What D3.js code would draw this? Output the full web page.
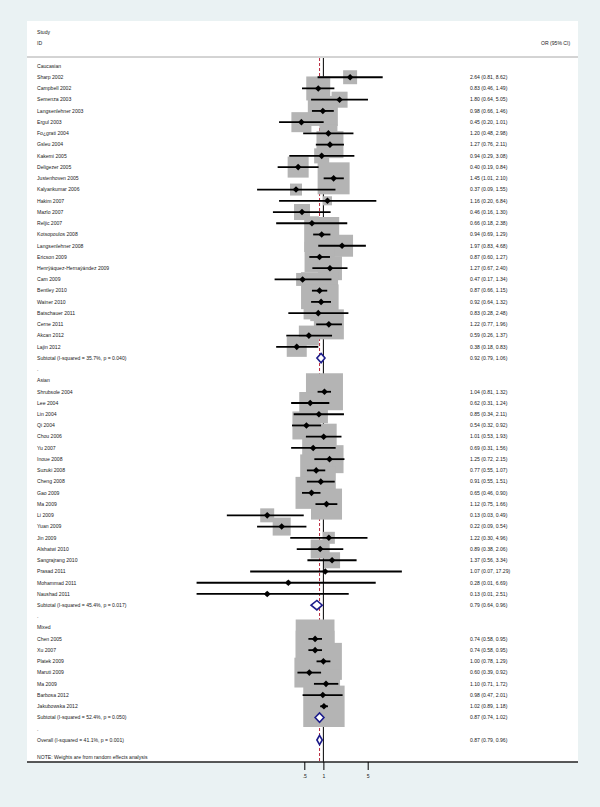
<!DOCTYPE html>
<html>
<head>
<meta charset="utf-8">
<script src="https://cdn.jsdelivr.net/npm/d3@7"></script>
<style>
  html, body { margin: 0; padding: 0; background: #eaf2f3; }
  svg { display: block; }
  text { font-family: "Liberation Sans", Arial, sans-serif; }
</style>
</head>
<body>
<script>
// ---------------- DATA ----------------
const groupNames = ["Caucasian", "Asian", "Mixed"];

const studyLabels = [
  "Sharp 2002","Campbell 2002","Semenza 2003","Langsenlehner 2003","Ergul 2003","Fo¿grati 2004","Gsleu 2004","Kakemi 2005","Deligezer 2005","Justenhoven 2005","Kalyankumar 2006","Hakim 2007","Mazlo 2007","Reljic 2007","Kotsopoulos 2008","Langsenlehner 2008","Ericson 2009","Henrÿáquez-Hernaýández 2009","Cam 2009","Bentley 2010","Wainer 2010","Batschauer 2011","Cerne 2011","Akcan 2012","Lajin 2012",
  "Shrubsole 2004","Lee 2004","Lin 2004","Qi 2004","Chou 2006","Yu 2007","Inoue 2008","Suzuki 2008","Cheng 2008","Gao 2009","Ma 2009","Li 2009","Yuan 2009","Jin 2009","Alshatwi 2010","Sangrajrang 2010","Prasad 2011","Mohammad 2011","Naushad 2011",
  "Chen 2005","Xu 2007","Platek 2009","Maruti 2009","Ma 2009","Barbosa 2012","Jakubowska 2012"
];
const studyGroup = [
  0,0,0,0,0,0,0,0,0,0,0,0,0,0,0,0,0,0,0,0,0,0,0,0,0,
  1,1,1,1,1,1,1,1,1,1,1,1,1,1,1,1,1,1,1,
  2,2,2,2,2,2,2
];
const orValues = [
  2.64,0.83,1.80,0.98,0.45,1.20,1.27,0.94,0.40,1.45,0.37,1.16,0.46,0.66,0.94,1.97,0.87,1.27,0.47,0.87,0.92,0.83,1.22,0.59,0.38,
  1.04,0.62,0.85,0.54,1.01,0.69,1.25,0.77,0.91,0.65,1.12,0.13,0.22,1.22,0.89,1.37,1.07,0.28,0.13,
  0.74,0.74,1.00,0.60,1.10,0.98,1.02
];
const ciLower = [
  0.81,0.46,0.64,0.66,0.20,0.48,0.76,0.29,0.19,1.01,0.09,0.20,0.16,0.18,0.69,0.83,0.60,0.67,0.17,0.66,0.64,0.28,0.77,0.26,0.18,
  0.81,0.31,0.34,0.32,0.53,0.31,0.72,0.55,0.55,0.46,0.75,0.03,0.09,0.30,0.38,0.56,0.07,0.01,0.01,
  0.58,0.58,0.78,0.39,0.71,0.47,0.89
];
const ciUpper = [
  8.62,1.49,5.05,1.46,1.01,2.98,2.11,3.08,0.84,2.10,1.55,6.84,1.30,2.38,1.29,4.68,1.27,2.40,1.34,1.15,1.32,2.48,1.96,1.37,0.83,
  1.32,1.24,2.11,0.92,1.93,1.56,2.15,1.07,1.51,0.90,1.66,0.49,0.54,4.96,2.06,3.34,17.29,6.69,2.51,
  0.95,0.95,1.29,0.92,1.72,2.01,1.18
];
// estimated percentage weights (read from square sizes)
const weights = [
  0.57,1.68,0.75,2.63,1.17,0.95,2.13,0.66,1.29,2.99,0.42,0.24,0.75,0.57,3.58,1.41,2.63,1.68,0.49,4.0,3.58,0.75,2.63,1.17,1.17,
  4.0,1.41,0.95,2.29,1.98,1.41,2.29,2.99,2.63,2.99,2.81,0.57,0.95,0.42,1.05,0.75,0.03,0.05,0.05,
  4.4,4.4,4.0,2.6,2.3,1.2,5.0
];

const subtotalHet = ["35.7%, p = 0.040", "45.4%, p = 0.017", "52.4%, p = 0.050"];
const subtotalOR = [0.92, 0.79, 0.87];
const subtotalLo = [0.79, 0.64, 0.74];
const subtotalHi = [1.06, 0.96, 1.02];

const overallHet = "41.1%, p = 0.001";
const overallOR = 0.87, overallLo = 0.79, overallHi = 0.96;

const tickValues = [0.5, 1, 5];
const tickLabels = [".5", "1", "5"];

// ---------------- BUILD ROWS ----------------
const fmt = d3.format(".2f");
const rows = [];
groupNames.forEach((g, gi) => {
  rows.push({type: "header", label: g});
  studyLabels.forEach((s, i) => {
    if (studyGroup[i] === gi) rows.push({type: "study", label: s, or: orValues[i], lo: ciLower[i], hi: ciUpper[i], w: weights[i]});
  });
  rows.push({type: "subtotal", label: "Subtotal  (I-squared = " + subtotalHet[gi] + ")", or: subtotalOR[gi], lo: subtotalLo[gi], hi: subtotalHi[gi]});
  rows.push({type: "spacer", label: "."});
});
rows.push({type: "overall", label: "Overall  (I-squared = " + overallHet + ")", or: overallOR, lo: overallLo, hi: overallHi});
rows.forEach((r, i) => r.idx = i);

// ---------------- LAYOUT ----------------
const W = 600, H = 807;
const svg = d3.select("body").append("svg").attr("width", W).attr("height", H);

svg.append("rect").attr("width", W).attr("height", H).attr("fill", "#eaf2f3");
const panel = {x0: 27, x1: 578, y0: 21, y1: 762};
svg.append("rect").attr("x", panel.x0).attr("y", panel.y0)
  .attr("width", panel.x1 - panel.x0).attr("height", panel.y1 - panel.y0).attr("fill", "#ffffff");

const x = d3.scaleLog().domain([0.5, 5]).range([304.3, 367.7]);
const y = d3.scaleLinear().domain([0, 60]).range([66, 740]);
const side = d3.scaleSqrt().domain([0, 4]).range([0, 37]);

const fs = 5.1;
const labelX = 37, ciTextX = 470;

// header
svg.append("text").attr("x", labelX).attr("y", 32).attr("dy", "0.35em").attr("font-size", fs).attr("fill", "#222").text("Study");
svg.append("text").attr("x", labelX).attr("y", 43).attr("dy", "0.35em").attr("font-size", fs).attr("fill", "#222").text("ID");
svg.append("text").attr("x", 541).attr("y", 43).attr("dy", "0.35em").attr("font-size", fs).attr("fill", "#222").text("OR (95% CI)");
svg.append("line").attr("x1", panel.x0).attr("x2", panel.x1).attr("y1", 57).attr("y2", 57)
  .attr("stroke", "#a8a8a8").attr("stroke-width", 1);

const studies = rows.filter(r => r.type === "study");

// null line and overall line (squares cover them)
svg.append("line").attr("x1", x(1)).attr("x2", x(1)).attr("y1", 58).attr("y2", panel.y1)
  .attr("stroke", "#000").attr("stroke-width", 1);
svg.append("line").attr("x1", x(overallOR)).attr("x2", x(overallOR)).attr("y1", 58).attr("y2", panel.y1)
  .attr("stroke", "#b8283c").attr("stroke-width", 1).attr("stroke-dasharray", "3,2");

// squares
svg.append("g").selectAll("rect").data(studies).join("rect")
  .attr("x", d => x(d.or) - side(d.w) / 2)
  .attr("y", d => y(d.idx) - side(d.w) / 2)
  .attr("width", d => side(d.w))
  .attr("height", d => side(d.w))
  .attr("fill", "#b4b4b4");

// CI lines
svg.append("g").selectAll("line").data(studies).join("line")
  .attr("x1", d => x(d.lo)).attr("x2", d => x(d.hi))
  .attr("y1", d => y(d.idx)).attr("y2", d => y(d.idx))
  .attr("stroke", "#000").attr("stroke-width", 1.8);

// point markers
const dm = 3.3;
svg.append("g").selectAll("path").data(studies).join("path")
  .attr("d", d => {
    const cx = x(d.or), cy = y(d.idx);
    return `M${cx},${cy - dm}L${cx + dm},${cy}L${cx},${cy + dm}L${cx - dm},${cy}Z`;
  })
  .attr("fill", "#000");

// diamonds
const diam = rows.filter(r => r.type === "subtotal" || r.type === "overall");
svg.append("g").selectAll("path").data(diam).join("path")
  .attr("d", d => {
    const cy = y(d.idx), h = 4.7;
    return `M${x(d.lo)},${cy}L${x(d.or)},${cy - h}L${x(d.hi)},${cy}L${x(d.or)},${cy + h}Z`;
  })
  .attr("fill", "#fff").attr("stroke", "#1c1c8a").attr("stroke-width", 1.6);

// labels
svg.append("g").selectAll("text").data(rows).join("text")
  .attr("x", labelX).attr("y", d => y(d.idx)).attr("dy", "0.35em")
  .attr("font-size", fs).attr("fill", "#222")
  .text(d => d.label);

// CI text
svg.append("g").selectAll("text").data(rows.filter(r => r.or !== undefined)).join("text")
  .attr("x", ciTextX).attr("y", d => y(d.idx)).attr("dy", "0.35em")
  .attr("font-size", fs).attr("fill", "#222")
  .text(d => `${fmt(d.or)} (${fmt(d.lo)}, ${fmt(d.hi)})`);

// note
svg.append("text").attr("x", labelX).attr("y", y(61.5)).attr("dy", "0.35em")
  .attr("font-size", fs).attr("fill", "#222").text("NOTE: Weights are from random effects analysis");

// axis
svg.append("line").attr("x1", panel.x0).attr("x2", panel.x1).attr("y1", panel.y1).attr("y2", panel.y1)
  .attr("stroke", "#222").attr("stroke-width", 1.4);
const axis = d3.axisBottom(x).tickValues(tickValues).tickFormat((d, i) => tickLabels[i]).tickSize(8).tickPadding(4);
const ag = svg.append("g").attr("transform", `translate(0,${panel.y1})`).call(axis);
ag.select(".domain").remove();
ag.selectAll(".tick line").attr("stroke", "#000").attr("stroke-width", 1);
ag.selectAll(".tick text").attr("font-size", fs).attr("fill", "#222").attr("font-family", "Liberation Sans, Arial, sans-serif");
</script>
</body>
</html>
